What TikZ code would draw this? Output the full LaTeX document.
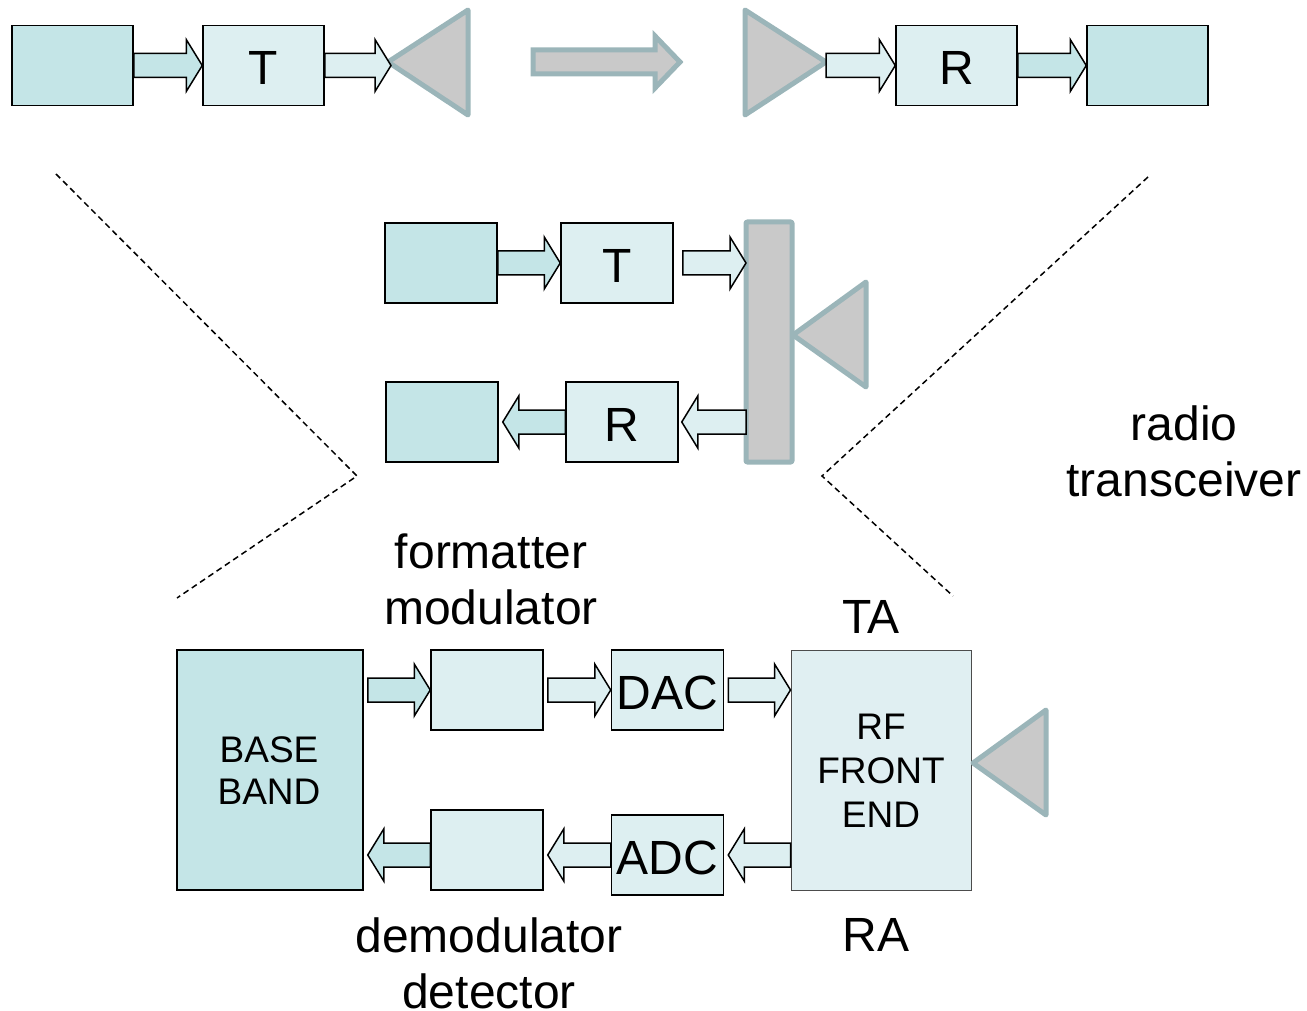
\documentclass[tikz,border=0pt]{standalone}
\usepackage{fontspec}
\setmainfont{Liberation Sans}
\usetikzlibrary{calc}
\definecolor{darkfill}{HTML}{C4E5E7}
\definecolor{lightfill}{HTML}{DDEFF1}
\definecolor{palefill}{HTML}{E0EFF2}
\definecolor{antline}{HTML}{9BB5B9}
\definecolor{antfill}{HTML}{C9C9C9}
\tikzset{
	fathead/.store in=\fathead, fathead=16pt,
	fatarrow/.style={draw=black, line width=1.5pt, fill=#1, to path={
		($(\tikztostart)!12pt!90:(\tikztotarget)$)
		-- ($(\tikztotarget)!\fathead!(\tikztostart)!12pt!90:(\tikztotarget)$)
		-- ($(\tikztotarget)!\fathead!(\tikztostart)!26pt!90:(\tikztotarget)$)
		-- (\tikztotarget)
		-- ($(\tikztotarget)!\fathead!(\tikztostart)!26pt!-90:(\tikztotarget)$)
		-- ($(\tikztotarget)!\fathead!(\tikztostart)!12pt!-90:(\tikztotarget)$)
		-- ($(\tikztostart)!12pt!-90:(\tikztotarget)$) -- cycle}},
	block/.style={draw=black, line width=1.5pt, fill=#1, inner sep=0pt, minimum width=112pt, minimum height=80pt, text height=38.5pt, font=\fontsize{48}{48}\selectfont},
	wideblock/.style={block=#1, minimum width=121pt},
	antenna/.style={draw=antline, fill=antfill, line width=5pt, line join=round},
	caption/.style={align=center, inner sep=0pt, font=\fontsize{48}{56}\selectfont},
	inblock/.style={align=center, font=\fontsize{37}{#1}\selectfont},
	brace/.style={dash pattern=on 6pt off 4pt, line width=1.5pt}
}
\begin{document}
\begin{tikzpicture}[x=1pt, y=-1pt]
	\useasboundingbox (0,0) rectangle (1307,1011);

	\node[wideblock=darkfill] (source) at (72.5,65.5) {};
	\node[wideblock=lightfill] (toptx) at (263.5,65.5) {T};
	\node[wideblock=lightfill] (toprx) at (956.5,65.5) {R};
	\node[wideblock=darkfill] (sink) at (1147.5,65.5) {};
	\coordinate (txtip) at (388,62);
	\coordinate (txend) at (391,65.5);
	\coordinate (rxtip) at (826,62);
	\coordinate (gofrom) at (533,62);
	\coordinate (goto) at (680,62);
	\draw[antenna] (txtip) -- ++(80,-52) -- ++(0,105) -- cycle;
	\draw[antenna] (rxtip) -- ++(-81,-52) -- ++(0,105) -- cycle;
	\draw[fatarrow=antfill, draw=antline, line width=5pt, fathead=25pt] (gofrom) to (goto);
	\draw[fatarrow=darkfill] (source.east) to (toptx.west);
	\draw[fatarrow=lightfill] (toptx.east) to (txend);
	\draw[fatarrow=lightfill] (rxtip |- toprx) to (toprx.west);
	\draw[fatarrow=darkfill] (toprx.east) to (sink.west);

	\node[block=darkfill] (midsource) at (441,263) {};
	\node[block=lightfill] (midtx) at (617,263) {T};
	\node[block=darkfill] (midsink) at (442,422) {};
	\node[block=lightfill] (midrx) at (622,422) {R};
	\node[antenna, inner sep=0pt, outer sep=0pt, rounded corners=1pt, minimum width=46pt, minimum height=240pt] (duplexer) at (769,342) {};
	\coordinate (midtip) at (793,335);
	\draw[antenna] (midtip) -- ++(73,-53) -- ++(0,105) -- cycle;
	\draw[fatarrow=darkfill] (midsource.east) to (midtx.west);
	\draw[fatarrow=lightfill] ([xshift=9pt]midtx.east) to (duplexer.west |- midtx);
	\draw[fatarrow=lightfill] (duplexer.west |- midrx) to ([xshift=3pt]midrx.east);
	\draw[fatarrow=darkfill] (midrx.west) to ([xshift=4pt]midsink.east);

	\node[block=darkfill, minimum width=186pt, minimum height=240pt] (baseband) at (270,770) {};
	\node[inblock=42] (basebandtext) at (269,771) {BASE\\BAND};
	\node[block=lightfill] (formatter) at (487,690) {};
	\node[block=lightfill] (dac) at (667.5,690) {DAC};
	\node[block=lightfill] (demod) at (487,850) {};
	\node[block=lightfill] (adc) at (667.5,855) {ADC};
	\node[block=palefill, draw=black!70, line width=1pt, minimum width=180pt, minimum height=240pt] (rffront) at (881,770) {};
	\node[inblock=44] (rftext) at (881,771) {RF\\FRONT\\END};
	\coordinate (lowtip) at (973,763);
	\draw[antenna] (lowtip) -- ++(73,-53) -- ++(0,105) -- cycle;
	\draw[fatarrow=darkfill] ([xshift=4pt]baseband.east |- formatter) to (formatter.west);
	\draw[fatarrow=lightfill] ([xshift=4pt]formatter.east) to (dac.west);
	\draw[fatarrow=lightfill] ([xshift=4pt]dac.east) to (rffront.west |- dac);
	\draw[fatarrow=lightfill] (rffront.west |- adc) to ([xshift=4pt]adc.east);
	\draw[fatarrow=lightfill] (adc.west) to ([xshift=4pt]demod.east |- adc);
	\draw[fatarrow=darkfill] (demod.west |- adc) to ([xshift=4pt]baseband.east |- adc);

	\draw[brace] (56,174) -- (357,476) -- (177,598);
	\draw[brace] (1148,177) -- (822,476) -- (953,596);

	\node[caption] (fmtlabel) at (491,579) {formatter\\modulator};
	\node[caption] (demodlabel) at (489,963.5) {demodulator\\detector};
	\node[caption] (talabel) at (871,617) {TA};
	\node[caption] (ralabel) at (876,935) {RA};
	\node[caption] (radiolabel) at (1184,451) {radio\\transceiver};
\end{tikzpicture}
\end{document}
